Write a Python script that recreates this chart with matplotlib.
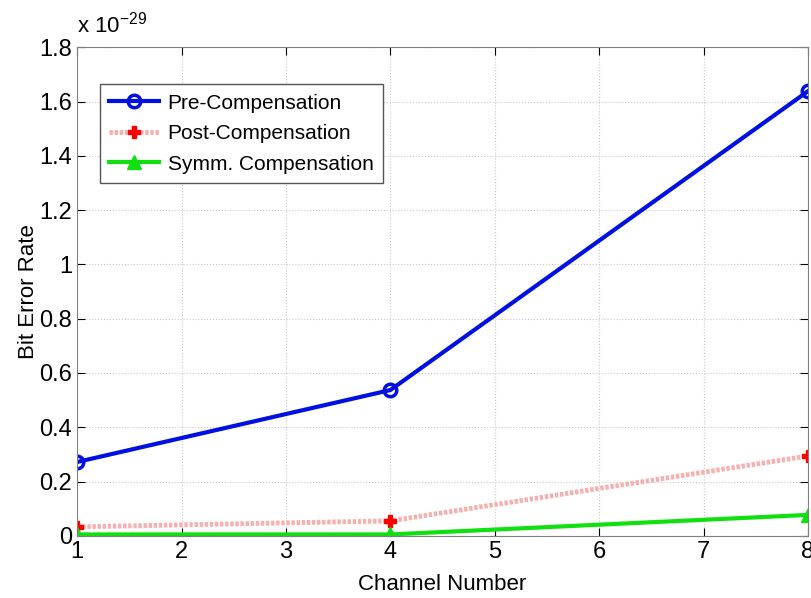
import numpy as np
import matplotlib.pyplot as plt
from matplotlib.ticker import FormatStrFormatter

plt.rcParams['font.family'] = ['Liberation Sans', 'DejaVu Sans']

# channel numbers and BER values (in units of 1e-29)
channels = [1, 4, 8]
pre_comp = [0.272, 0.537, 1.638]
post_comp = [0.033, 0.055, 0.294]
symm_comp = [0.005, 0.005, 0.077]

fig = plt.figure(figsize=(8.12, 5.98), dpi=100)
ax = fig.add_axes([0.095, 0.104, 0.900, 0.817])

ax.plot(channels, pre_comp, color='#0010e0', lw=3, marker='o', ms=9,
        mfc='none', mec='#0010e0', mew=2.5, label='Pre-Compensation')
ax.plot(channels, post_comp, color='#f6b0b0', lw=3.5, ls=(0, (0.7, 0.35)),
        marker='P', ms=9, mfc='red', mec='red', label='Post-Compensation')
ax.plot(channels, symm_comp, color='#10e010', lw=3, marker='^', ms=10,
        mfc='#10e010', mec='#10e010', label='Symm. Compensation')

ax.set_xlim(1, 8)
ax.set_ylim(0, 1.8)
ax.set_xticks(range(1, 9))
ax.set_yticks(np.arange(0, 1.81, 0.2))
ax.yaxis.set_major_formatter(FormatStrFormatter('%g'))
ax.tick_params(direction='in', top=True, right=True, labelsize=17, length=6)
ax.grid(True, ls=':', color='#c8c8c8', lw=0.8)
for s in ax.spines.values():
    s.set_color('#808080')

ax.set_xlabel('Channel Number', fontsize=16, labelpad=8)
ax.set_ylabel('Bit Error Rate', fontsize=16, labelpad=0)
ax.text(0.0, 1.02, 'x 10$^{\\mathregular{-29}}$', transform=ax.transAxes,
        fontsize=16, ha='left', va='bottom')

leg = ax.legend(loc='upper left', bbox_to_anchor=(0.031, 0.924), fontsize=15,
                fancybox=False, edgecolor='#555555', framealpha=1,
                handlelength=2.4, borderpad=0.45, labelspacing=0.55,
                handletextpad=0.4, borderaxespad=0)
leg.get_frame().set_linewidth(1)

fig.savefig('out.png', dpi=100)
